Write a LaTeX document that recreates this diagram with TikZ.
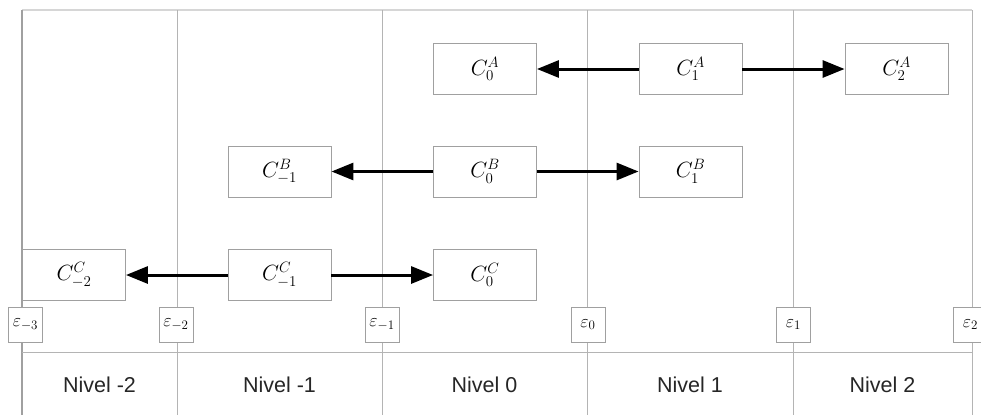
\documentclass[tikz,border=0pt]{standalone}
\usepackage{fix-cm}
\usepackage{fontspec}
\usepackage{amsmath}
\DeclareMathSizes{22}{22}{15}{11}
\DeclareMathSizes{18}{18}{13}{10}
\newfontfamily\labelfont{Liberation Sans}
\usetikzlibrary{arrows.meta}
\definecolor{gridc}{HTML}{B4B4B4}
\definecolor{boxc}{HTML}{A0A0A0}
\definecolor{topc}{HTML}{D6D6D6}
\begin{document}
\begin{tikzpicture}[x=1pt,y=-1pt,
  cbox/.style={draw=boxc,line width=0.9pt,fill=white,minimum width=103pt,minimum height=51pt,inner sep=0pt,font=\fontsize{22}{26}\selectfont},
  ebox/.style={draw=boxc,line width=0.9pt,fill=white,minimum width=34pt,minimum height=35pt,inner sep=0pt,font=\fontsize{18}{20}\selectfont},
  glines/.style={draw=gridc,line width=1pt},
  lvl/.style={font=\labelfont\fontsize{21.5}{24}\selectfont,text=black!85},
  conn/.style={line width=3pt,-{Triangle[length=22pt,width=17pt]}}]
\useasboundingbox (0,0) rectangle (981,415);
\clip (0,0) rectangle (981,415);
% grid
\draw[draw=topc,line width=1.2pt] (22,10) -- (972,10);
\draw[draw=boxc,line width=1.2pt] (22,10) -- (22,415);
\foreach \x in {177,382,587,793,972} \draw[glines] (\x,10) -- (\x,415);
\draw[glines] (22,352) -- (972,352);
% level labels
\node[lvl] (n1) at (99.5,385) {Nivel -2};
\node[lvl] (n2) at (279.5,385) {Nivel -1};
\node[lvl] (n3) at (484.5,385) {Nivel 0};
\node[lvl] (n4) at (690,385) {Nivel 1};
\node[lvl] (n5) at (882.5,385) {Nivel 2};
% epsilon boxes
\node[ebox] (e1) at (25.5,324.5) {$\varepsilon_{-3}$};
\node[ebox] (e2) at (176,324.5) {$\varepsilon_{-2}$};
\node[ebox] (e3) at (382,324.5) {$\varepsilon_{-1}$};
\node[ebox] (e4) at (588,324.5) {$\varepsilon_{0}$};
\node[ebox] (e5) at (793.5,324.5) {$\varepsilon_{1}$};
\node[ebox] (e6) at (970.5,324.5) {$\varepsilon_{2}$};
% C boxes
\node[cbox] (a0) at (485,69) {$C_{0}^{A}$};
\node[cbox] (a1) at (690.5,69) {$C_{1}^{A}$};
\node[cbox] (a2) at (896.5,69) {$C_{2}^{A}$};
\node[cbox] (bm1) at (279.5,171.5) {$C_{-1}^{B}$};
\node[cbox] (b0) at (485,171.5) {$C_{0}^{B}$};
\node[cbox] (b1) at (690.5,171.5) {$C_{1}^{B}$};
\node[cbox] (cm2) at (74,275) {$C_{-2}^{C}$};
\node[cbox] (cm1) at (279.5,275) {$C_{-1}^{C}$};
\node[cbox] (c0) at (485,275) {$C_{0}^{C}$};
% arrows
\draw[conn] (a1.west) -- (a0.east);
\draw[conn] (a1.east) -- (a2.west);
\draw[conn] (b0.west) -- (bm1.east);
\draw[conn] (b0.east) -- (b1.west);
\draw[conn] (cm1.west) -- (cm2.east);
\draw[conn] (cm1.east) -- (c0.west);
\end{tikzpicture}
\end{document}
